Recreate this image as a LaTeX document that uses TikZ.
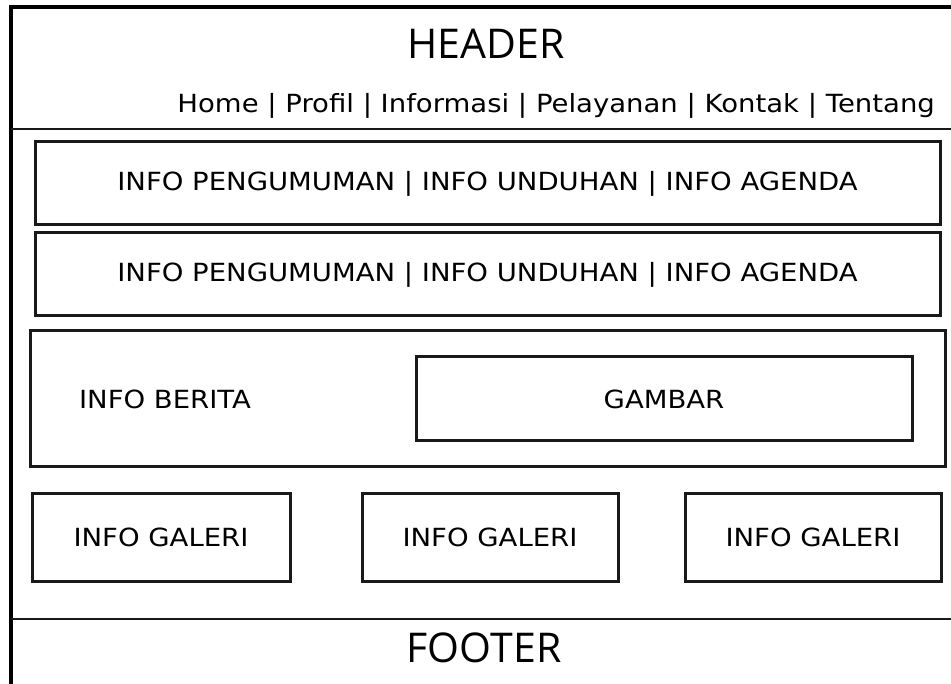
\documentclass[tikz,border=0pt]{standalone}
\usepackage{fontspec}
\setmainfont[FakeStretch=1.1]{DejaVu Sans}
\newfontfamily\titlefont{Open Sans}
\usepackage{tikz}
\usetikzlibrary{positioning, calc}
\tikzstyle{panelbox}=[rectangle,line width=3pt,draw=black!90,inner sep=0pt,
font=\fontsize{25}{30}\selectfont]
\tikzstyle{textbox}=[rectangle,inner sep=0pt,font=\fontsize{25}{30}\selectfont]
\tikzstyle{titletext}=[rectangle,inner sep=0pt,font=\titlefont\fontsize{41}{48}\selectfont]
\tikzstyle{frameline}=[line width=3.5pt,draw=black]
\tikzstyle{sepline}=[line width=2.5pt,draw=black!90]

\begin{document}
\begin{tikzpicture}[x=1pt,y=-1pt]
    \useasboundingbox (0,0) rectangle (951,684);
    % frame
    \coordinate (ftopleft) at (11,7);
    \coordinate (ftopright) at (951,7);
    \coordinate (fbottomleft) at (11,684);
    \coordinate (hsepleft) at (11,129);
    \coordinate (hsepright) at (951,129);
    \coordinate (fsepleft) at (11,619);
    \coordinate (fsepright) at (951,619);
    \draw[frameline] (fbottomleft) -- (ftopleft) -- (ftopright);
    \draw[sepline] (hsepleft) -- (hsepright);
    \draw[sepline] (fsepleft) -- (fsepright);

    % header
    \node[titletext] (header) at (486,44) {HEADER};
    \node[textbox, anchor=base east] (menu) at (935,113)
        {Home | Profil | Informasi | Pelayanan | Kontak | Tentang};

    % info rows
    \node[panelbox, minimum width=905, minimum height=83] (info1) at (487.5,183.5)
        {INFO PENGUMUMAN | INFO UNDUHAN | INFO AGENDA};
    \node[panelbox, minimum width=905, minimum height=83] (info2) at (487.5,274.5)
        {INFO PENGUMUMAN | INFO UNDUHAN | INFO AGENDA};

    % berita
    \node[panelbox, minimum width=915, minimum height=136] (berita) at (487.5,399) {};
    \node[textbox] (beritatext) at (165,399) {INFO BERITA};
    \node[panelbox, minimum width=496, minimum height=84] (gambar) at (664,399) {GAMBAR};

    % galeri
    \node[panelbox, minimum width=258, minimum height=87] (galeri1) at (161,537.5) {INFO GALERI};
    \node[panelbox, minimum width=256, minimum height=87] (galeri2) at (490,537.5) {INFO GALERI};
    \node[panelbox, minimum width=256, minimum height=87] (galeri3) at (813,537.5) {INFO GALERI};

    % footer
    \node[titletext] (footer) at (484,648) {FOOTER};
\end{tikzpicture}
\end{document}
